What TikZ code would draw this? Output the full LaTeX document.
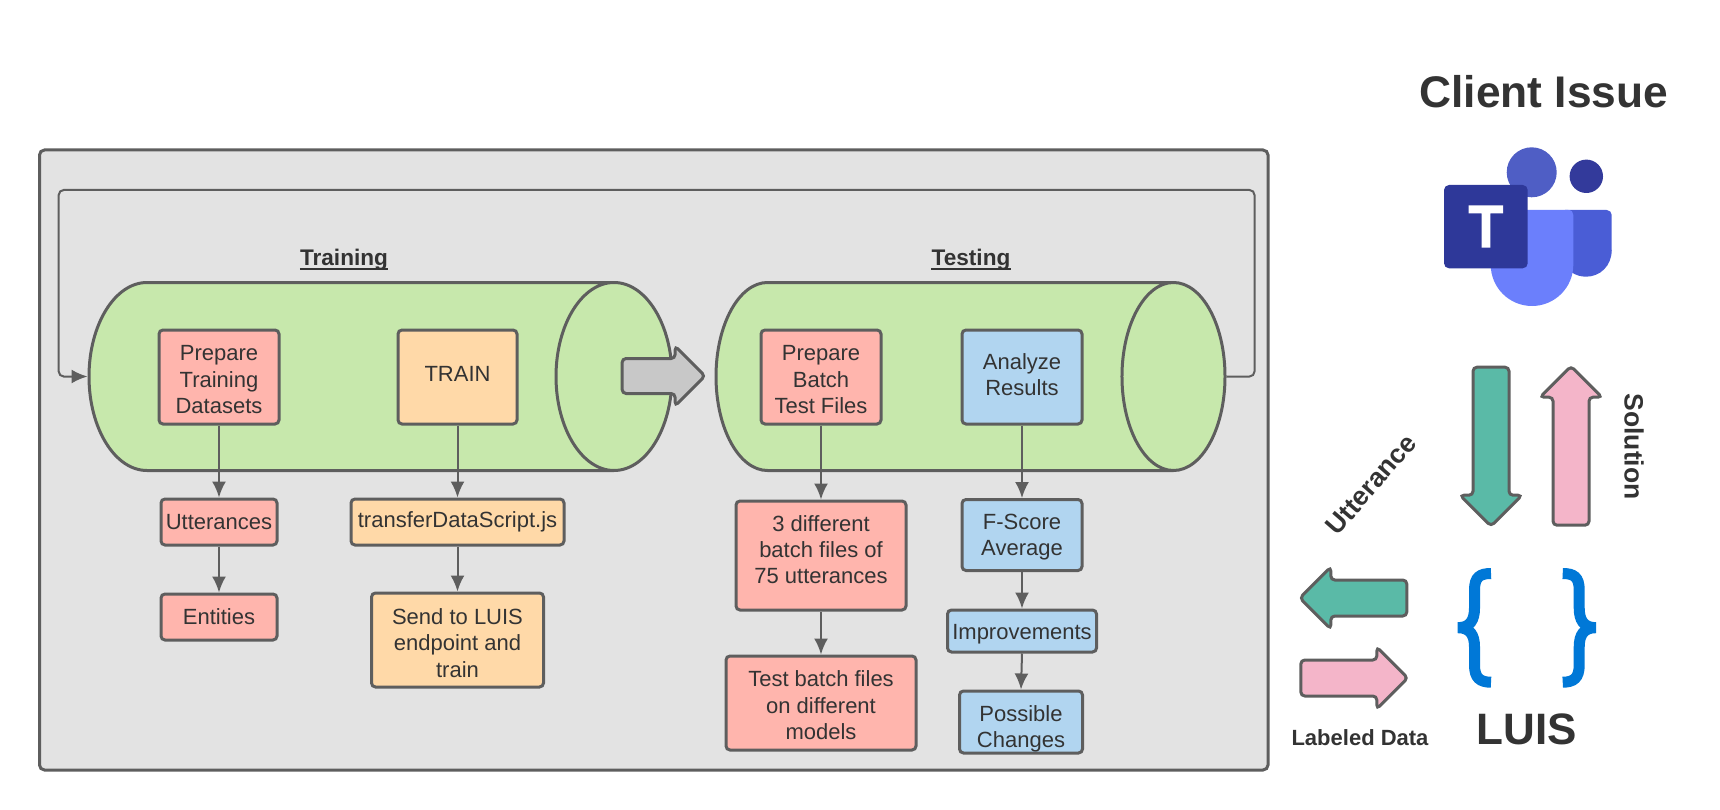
\documentclass[tikz,border=0pt]{standalone}
\usepackage{xcolor}
\usepackage{fontspec}
\setmainfont{Liberation Sans}
\usetikzlibrary{arrows.meta,shapes.geometric,shapes.arrows}

\definecolor{lineGray}{HTML}{5E5E5E}
\definecolor{panelGray}{HTML}{E3E3E3}
\definecolor{inkGray}{HTML}{333333}
\definecolor{stepRed}{HTML}{FFB5AD}
\definecolor{stepOrange}{HTML}{FFD9A8}
\definecolor{stepBlue}{HTML}{B1D5F0}
\definecolor{cylGreen}{HTML}{C7E8AC}
\definecolor{arrowTeal}{HTML}{5ABAA7}
\definecolor{arrowPink}{HTML}{F4B5C9}
\definecolor{arrowGray}{HTML}{C8C8C8}
\definecolor{luisBlue}{HTML}{0078D7}
\definecolor{teamsBig}{HTML}{4F5EC5}
\definecolor{teamsSmall}{HTML}{333A9B}
\definecolor{teamsBack}{HTML}{4A5DD6}
\definecolor{teamsFront}{HTML}{6B7FFC}
\definecolor{teamsSquare}{HTML}{2E3899}

% Invisible struts that push box text down or up
\newcommand{\padtop}[1]{\rule{0pt}{#1pt}}
\newcommand{\padbot}[1]{\rule[-#1pt]{0pt}{0pt}}

\tikzset{
    stepbox/.style={draw=lineGray, line width=3pt, rounded corners=4pt, inner sep=0pt,
        align=center, text=inkGray, font=\fontsize{22}{26.4}\selectfont},
    flow/.style={draw=lineGray, line width=2pt, -{Latex[length=16pt,width=14pt]}},
    drum/.style={cylinder, draw=lineGray, fill=cylGreen, line width=3pt, inner xsep=0pt, inner ysep=94pt,
        anchor=shape center},
    blockarrow/.style={single arrow, draw=lineGray, line width=3pt, rounded corners=4pt, anchor=tail,
        inner xsep=0pt, inner ysep=16.5pt, single arrow head extend=13pt},
    heading/.style={text=inkGray, font=\bfseries\fontsize{22.6}{26}\selectfont, inner sep=0pt},
    sidetext/.style={text=inkGray, font=\bfseries\fontsize{26.5}{30}\selectfont, inner sep=0pt},
    bracket/.style={draw=luisBlue, line width=11pt}
}

\begin{document}
\begin{tikzpicture}[x=1pt, y=-1pt]
    \useasboundingbox (0,0) rectangle (1720,810);

    % Outer panel
    \fill[panelGray, draw=lineGray, line width=3pt, rounded corners=5pt] (39.5,150) rectangle (1268,770);

    % Training and testing cylinders
    \node[drum, minimum height=583pt, shape aspect=0.617] (cylTrain) at (380.5,376.5) {};
    \node[drum, minimum height=509pt, shape aspect=0.548] (cylTest) at (970.5,376.5) {};
    \node[heading] (labTrain) at (344,260) {Training};
    \node[heading] (labTest) at (971,260) {Testing};
    \draw[inkGray, line width=2pt] ([yshift=1.5pt]labTrain.south west) -- ([yshift=1.5pt]labTrain.south east);
    \draw[inkGray, line width=2pt] ([yshift=1.5pt]labTest.south west) -- ([yshift=1.5pt]labTest.south east);

    % Feedback loop
    \coordinate (loopR) at (1254.5,190);
    \coordinate (loopL) at (58.7,190);
    \draw[flow, rounded corners=5pt] (cylTest.east) -| (loopR) -- (loopL) |- (cylTrain.west);

    % Arrow between the cylinders
    \node[blockarrow, fill=arrowGray, inner ysep=16pt, single arrow head extend=12.5pt, minimum height=83pt] (gap) at (620.6,376) {};

    % Training column
    \node[stepbox, fill=stepRed, minimum width=120pt, minimum height=94pt] (prepTrain) at (219,377) {\padtop{21}Prepare\\Training\\Datasets};
    \node[stepbox, fill=stepRed, minimum width=116pt, minimum height=46pt] (utter) at (219,522) {Utterances};
    \node[stepbox, fill=stepRed, minimum width=116pt, minimum height=46pt] (entity) at (219,617) {Entities};

    \node[stepbox, fill=stepOrange, minimum width=119pt, minimum height=94pt] (train) at (457.5,377) {TRAIN\padbot{6}};
    \node[stepbox, fill=stepOrange, minimum width=213pt, minimum height=46pt] (script) at (457.5,522) {transferDataScript.js};
    \node[stepbox, fill=stepOrange, minimum width=172pt, minimum height=94pt] (send) at (457.5,640) {\padtop{22}Send to LUIS\\endpoint and\\train};

    % Testing column
    \node[stepbox, fill=stepRed, minimum width=120pt, minimum height=94pt] (prepTest) at (821,377) {\padtop{21}Prepare\\Batch\\Test Files};
    \node[stepbox, fill=stepRed, minimum width=170pt, minimum height=109pt] (batch) at (821,555.5) {3 different\\batch files of\\75 utterances\padbot{12}};
    \node[stepbox, fill=stepRed, minimum width=190pt, minimum height=94pt] (models) at (821,703) {\padtop{21}Test batch files\\on different\\models};

    \node[stepbox, fill=stepBlue, minimum width=120pt, minimum height=94pt] (analyze) at (1022,377) {Analyze\\Results\padbot{5}};
    \node[stepbox, fill=stepBlue, minimum width=120pt, minimum height=71pt] (fscore) at (1022,535) {\padtop{20}F-Score\\Average};
    \node[stepbox, fill=stepBlue, minimum width=149pt, minimum height=42pt] (improve) at (1022,631) {\padtop{22}Improvements};
    \node[stepbox, fill=stepBlue, minimum width=123pt, minimum height=62pt] (changes) at (1021,722) {\padtop{30}Possible\\Changes};

    % Step connectors
    \foreach \from/\to in {prepTrain/utter, utter/entity, train/script, script/send, prepTest/batch,
            batch/models, analyze/fscore, fscore/improve, improve/changes} {
        \draw[flow] (\from.south) -- (\to.north);
    }

    % Client side
    \node[text=inkGray, font=\bfseries\fontsize{44.3}{50}\selectfont, inner sep=0pt] (client) at (1543.7,92) {Client Issue};

    % Teams logo
    \fill[teamsBig] (1531.7,172.3) circle [radius=25];
    \fill[teamsSmall] (1586.3,176.3) circle [radius=16.7];
    \fill[teamsBack, rounded corners=5pt] (1560,210) -- (1611.7,210) -- (1611.7,255) -- (1560,255) -- cycle;
    \fill[teamsBack] (1611.7,250) .. controls (1611.7,266) and (1600,276.7) .. (1586,276.7)
        .. controls (1575,276.7) and (1566,270) .. (1560,260) -- (1560,250) -- cycle;
    \fill[teamsFront] (1490.7,210) -- (1568.3,210) .. controls (1571.5,210) and (1573.3,212) .. (1573.3,215)
        -- (1573.3,264.7) arc[start angle=0, end angle=180, radius=41.3] -- cycle;
    \fill[teamsSquare, rounded corners=5pt] (1444,185) rectangle (1527.7,268.3);
    \fill[white] (1468.7,205.3) -- (1503,205.3) -- (1503,213.3) -- (1490.3,213.3) -- (1490.3,247.7)
        -- (1481.7,247.7) -- (1481.7,213.3) -- (1468.7,213.3) -- cycle;

    % Exchange arrows
    \node[blockarrow, fill=arrowTeal, rotate=-90, minimum height=159pt] (utterDown) at (1491,365.7) {};
    \node[blockarrow, fill=arrowPink, rotate=90, minimum height=159pt] (solutionUp) at (1571,526.7) {};
    \node[blockarrow, fill=arrowTeal, rotate=180, minimum height=107pt] (utterLeft) at (1408.3,598) {};
    \node[blockarrow, fill=arrowPink, minimum height=107pt] (labelRight) at (1299.3,678) {};

    \node[sidetext, rotate=49] (utterText) at (1371,484.5) {Utterance};
    \node[sidetext, rotate=-90] (solutionText) at (1634,446.7) {Solution};
    \node[text=inkGray, font=\bfseries\fontsize{22}{26}\selectfont, inner sep=0pt] (labelText) at (1360,738) {Labeled Data};

    % LUIS braces
    \draw[bracket] (1491,573.5) .. controls (1480,573.5) and (1474.5,577) .. (1474.5,590) -- (1474.5,608)
        .. controls (1474.5,620) and (1470,627.7) .. (1458,627.7)
        .. controls (1470,627.7) and (1474.5,635) .. (1474.5,647) -- (1474.5,665)
        .. controls (1474.5,678) and (1480,682.2) .. (1491,682.2);
    \draw[bracket] (1562.7,573.5) .. controls (1573.7,573.5) and (1579.2,577) .. (1579.2,590) -- (1579.2,608)
        .. controls (1579.2,620) and (1583.7,627.7) .. (1595.7,627.7)
        .. controls (1583.7,627.7) and (1579.2,635) .. (1579.2,647) -- (1579.2,665)
        .. controls (1579.2,678) and (1573.7,682.2) .. (1562.7,682.2);
    \node[text=inkGray, font=\bfseries\fontsize{44}{50}\selectfont, inner sep=0pt] (luis) at (1527,729) {LUIS};
\end{tikzpicture}
\end{document}
